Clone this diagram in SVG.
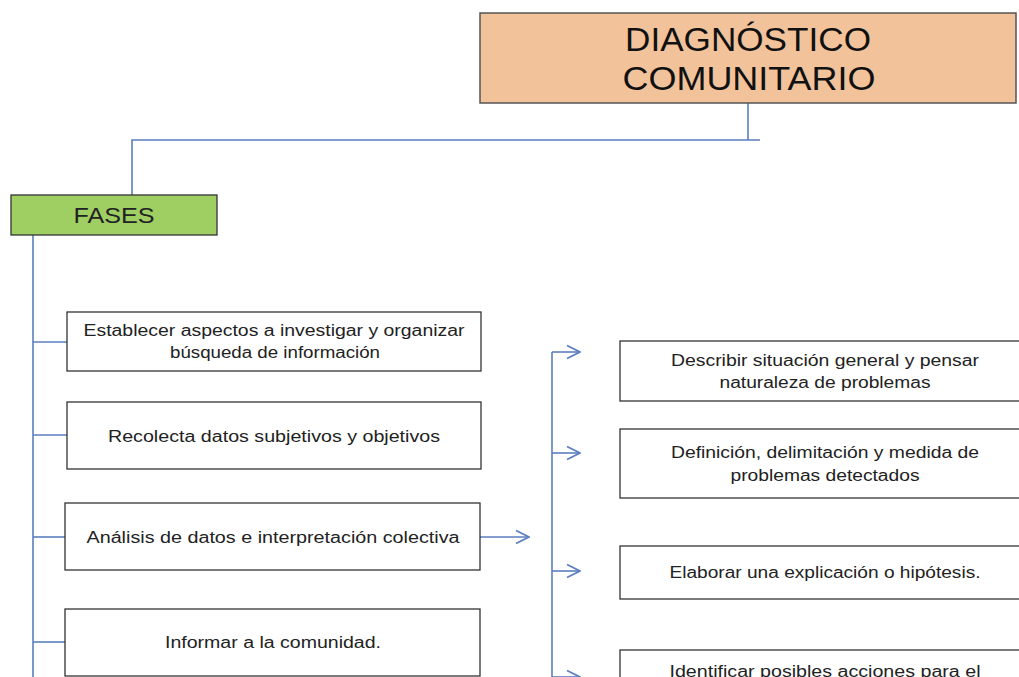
<svg xmlns="http://www.w3.org/2000/svg" width="1019" height="677" viewBox="0 0 1019 677">
<style>
.box{fill:#fff;stroke:#333;stroke-width:1.3}
.t{font-family:"Liberation Sans","DejaVu Sans",sans-serif;font-size:16px;fill:#222;text-anchor:middle}
.big{font-family:"Liberation Sans","DejaVu Sans",sans-serif;font-size:33px;fill:#111;text-anchor:middle}
.c{fill:none;stroke:#5B7FBF;stroke-width:1.6}
</style>
<defs>
<marker id="ah" viewBox="0 0 16 16" refX="15" refY="8" markerWidth="16" markerHeight="16" markerUnits="userSpaceOnUse" orient="auto">
<path d="M2,1.5 L15,8 L2,14.5" fill="none" stroke="#5B7FBF" stroke-width="1.8"/>
</marker>
</defs>
<g id="connectors">
<path class="c" d="M748,103 V140"/>
<path class="c" d="M760,140 H132 V195"/>
<path class="c" d="M33,235 V677"/>
<path class="c" d="M33,342 H67"/>
<path class="c" d="M33,435 H67"/>
<path class="c" d="M33,537 H65"/>
<path class="c" d="M33,642 H65"/>
<path class="c" d="M480,537 H529" marker-end="url(#ah)"/>
<path class="c" d="M552,352 V677"/>
<path class="c" d="M552,352 H580" marker-end="url(#ah)"/>
<path class="c" d="M552,453 H580" marker-end="url(#ah)"/>
<path class="c" d="M552,571 H580" marker-end="url(#ah)"/>
<path class="c" d="M552,677 H580" marker-end="url(#ah)"/>
</g>
<g id="title">
<rect x="480" y="13" width="536" height="90" fill="#F2C39B" stroke="#555" stroke-width="1.5"/>
<text class="big" x="748" y="51" textLength="246" lengthAdjust="spacingAndGlyphs">DIAGNÓSTICO</text>
<text class="big" x="749" y="90" textLength="253" lengthAdjust="spacingAndGlyphs">COMUNITARIO</text>
</g>
<g id="fases">
<rect x="11" y="195" width="206" height="40" fill="#9FCF62" stroke="#333" stroke-width="1.3"/>
<text class="t" x="114" y="223" style="font-size:22px" textLength="81" lengthAdjust="spacingAndGlyphs">FASES</text>
</g>
<g id="n1">
<rect class="box" x="67" y="312" width="414" height="59"/>
<text class="t" x="274" y="336" textLength="381" lengthAdjust="spacingAndGlyphs">Establecer aspectos a investigar y organizar</text>
<text class="t" x="275" y="358" textLength="210" lengthAdjust="spacingAndGlyphs">búsqueda de información</text>
</g>
<g id="n2">
<rect class="box" x="67" y="402" width="414" height="67"/>
<text class="t" x="274" y="442" textLength="332" lengthAdjust="spacingAndGlyphs">Recolecta datos subjetivos y objetivos</text>
</g>
<g id="n3">
<rect class="box" x="65" y="503" width="415" height="67"/>
<text class="t" x="273" y="543" textLength="373" lengthAdjust="spacingAndGlyphs">Análisis de datos e interpretación colectiva</text>
</g>
<g id="n4">
<rect class="box" x="65" y="609" width="415" height="67"/>
<text class="t" x="273" y="648" textLength="216" lengthAdjust="spacingAndGlyphs">Informar a la comunidad.</text>
</g>
<g id="r1">
<rect class="box" x="620" y="341" width="410" height="60"/>
<text class="t" x="825" y="366" textLength="308" lengthAdjust="spacingAndGlyphs">Describir situación general y pensar</text>
<text class="t" x="825" y="388" textLength="211" lengthAdjust="spacingAndGlyphs">naturaleza de problemas</text>
</g>
<g id="r2">
<rect class="box" x="620" y="429" width="410" height="69"/>
<text class="t" x="825" y="458" textLength="308" lengthAdjust="spacingAndGlyphs">Definición, delimitación y medida de</text>
<text class="t" x="825" y="481" textLength="189" lengthAdjust="spacingAndGlyphs">problemas detectados</text>
</g>
<g id="r3">
<rect class="box" x="620" y="546" width="410" height="53"/>
<text class="t" x="825" y="578" textLength="311" lengthAdjust="spacingAndGlyphs">Elaborar una explicación o hipótesis.</text>
</g>
<g id="r4">
<rect class="box" x="620" y="650" width="410" height="60"/>
<text class="t" x="825" y="677" textLength="311" lengthAdjust="spacingAndGlyphs">Identificar posibles acciones para el</text>
</g>
</svg>
